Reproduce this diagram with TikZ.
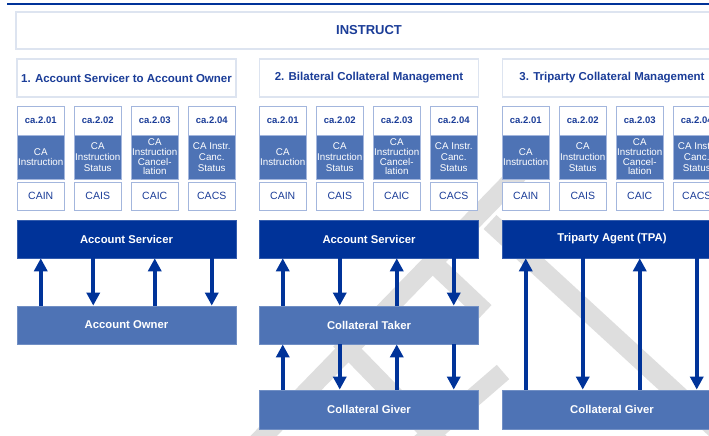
\documentclass[tikz,border=0pt]{standalone}
\usepackage{fontspec}
\setmainfont{Liberation Sans}
\usetikzlibrary{arrows.meta}
\definecolor{dkblue}{HTML}{003399}
\definecolor{mdblue}{HTML}{4E73B5}
\definecolor{txblue}{HTML}{1B3D98}
\definecolor{hdline}{HTML}{DDE4F0}
\definecolor{msgline}{HTML}{A3B6DD}
\definecolor{wmark}{HTML}{DEDEDE}
\begin{document}
\begin{tikzpicture}[x=1pt,y=-1pt,
  hdbox/.style={draw=hdline, line width=1.3pt, fill=white, inner sep=0pt,
    text=txblue, font=\bfseries\fontsize{11.5}{13}\selectfont},
  msgtop/.style={draw=msgline, line width=1pt, fill=white, inner sep=0pt,
    minimum width=47.5pt, minimum height=29pt, text=txblue,
    font=\bfseries\fontsize{9.5}{11}\selectfont},
  msgmid/.style={draw=msgline, line width=1pt, fill=mdblue, inner sep=0pt,
    minimum width=47.5pt, minimum height=44pt, text=white, align=center},
  msgbot/.style={draw=msgline, line width=1pt, fill=white, inner sep=0pt,
    minimum width=47.5pt, minimum height=28pt, text=txblue,
    font=\fontsize{10.5}{12}\selectfont},
  dkbox/.style={fill=dkblue, draw=dkblue!80!white, line width=0.6pt, inner sep=0pt,
    minimum width=219pt, minimum height=38pt, text=white,
    font=\bfseries\fontsize{11.3}{13}\selectfont},
  mdbox/.style={fill=mdblue, draw=mdblue!80!white, line width=0.8pt, inner sep=0pt,
    minimum width=219pt, minimum height=38pt, text=white,
    font=\bfseries\fontsize{11.3}{13}\selectfont},
  uparr/.style={draw=dkblue, line width=4pt, -{Triangle[width=13pt,length=13pt]}},
  wm/.style={draw=wmark, line width=19pt}
]
\useasboundingbox (0,0) rectangle (709,436);
\clip (0,0) rectangle (709,436);
% watermark
\draw[wm] (490,222) -- (735,447);
\draw[wm] (520,172) -- (252,448);
\draw[wm] (340,340) -- (445,448);
\draw[wm] (432,262) -- (485,312);
\draw[wm] (503,372) -- (415,448);
% top rule
\draw[dkblue, line width=1.2pt] (7,4) -- (709,4);
% title and headers
\node[hdbox, minimum width=706pt, minimum height=37pt, font=\bfseries\fontsize{13}{15}\selectfont] (instr) at (369,30.5) {INSTRUCT};
\node[hdbox, minimum width=219pt, minimum height=38pt] (h1) at (126.5,78) {1. Account Servicer to Account Owner};
\node[hdbox, minimum width=219pt, minimum height=38pt] (h2) at (369,78) {2. Bilateral Collateral Management};
\node[hdbox, minimum width=219pt, minimum height=38pt] (h3) at (612,78) {3. Triparty Collateral Management};
% message boxes
\foreach \c/\X in {1/17,2/259,3/502} {
  \foreach \k/\code/\desc/\ls/\abbr in {
      1/01/{CA\\Instruction}/10.5/CAIN,
      2/02/{CA\\Instruction\\Status}/11/CAIS,
      3/03/{CA\\Instruction\\Cancel-\\lation}/9.6/CAIC,
      4/04/{CA Instr.\\Canc.\\Status}/11/CACS} {
    \node[msgtop] (m\c\k t) at ({\X+(\k-1)*57+23.75},120.5) {ca.2.\code};
    \node[msgmid, font={\fontsize{9.8}{\ls}\selectfont}] (m\c\k m) at ({\X+(\k-1)*57+23.75},157) {\desc};
    \node[msgbot] (m\c\k b) at ({\X+(\k-1)*57+23.75},196) {\abbr};
  }
}
% parties
\node[dkbox] (as1) at (126.5,239) {Account Servicer};
\node[mdbox] (ao1) at (126.5,325) {Account Owner};
\node[dkbox] (as2) at (369,239) {Account Servicer};
\node[mdbox] (ct2) at (369,325) {Collateral Taker};
\node[mdbox, minimum height=39pt] (cg2) at (369,409.5) {Collateral Giver};
\node[dkbox] (tpa3) at (612,239) {Triparty Agent (TPA)};
\node[mdbox, minimum height=39pt] (cg3) at (612,409.5) {Collateral Giver};
% arrows column 1
\coordinate (k12) at ([xshift=-4.5pt]m12b.south);
\draw[uparr] (ao1.north -| m11b.south) -- (as1.south -| m11b.south);
\draw[uparr] (as1.south -| k12) -- (ao1.north -| k12);
\draw[uparr] (ao1.north -| m13b.south) -- (as1.south -| m13b.south);
\draw[uparr] (as1.south -| m14b.south) -- (ao1.north -| m14b.south);
% arrows column 2
\draw[uparr] (ct2.north -| m21b.south) -- (as2.south -| m21b.south);
\draw[uparr] (as2.south -| m22b.south) -- (ct2.north -| m22b.south);
\draw[uparr] (ct2.north -| m23b.south) -- (as2.south -| m23b.south);
\draw[uparr] (as2.south -| m24b.south) -- (ct2.north -| m24b.south);
\draw[uparr] (cg2.north -| m21b.south) -- (ct2.south -| m21b.south);
\draw[uparr] (ct2.south -| m22b.south) -- (cg2.north -| m22b.south);
\draw[uparr] (cg2.north -| m23b.south) -- (ct2.south -| m23b.south);
\draw[uparr] (ct2.south -| m24b.south) -- (cg2.north -| m24b.south);
% arrows column 3
\draw[uparr] (cg3.north -| m31b.south) -- (tpa3.south -| m31b.south);
\draw[uparr] (tpa3.south -| m32b.south) -- (cg3.north -| m32b.south);
\draw[uparr] (cg3.north -| m33b.south) -- (tpa3.south -| m33b.south);
\draw[uparr] (tpa3.south -| m34b.south) -- (cg3.north -| m34b.south);
\end{tikzpicture}
\end{document}
